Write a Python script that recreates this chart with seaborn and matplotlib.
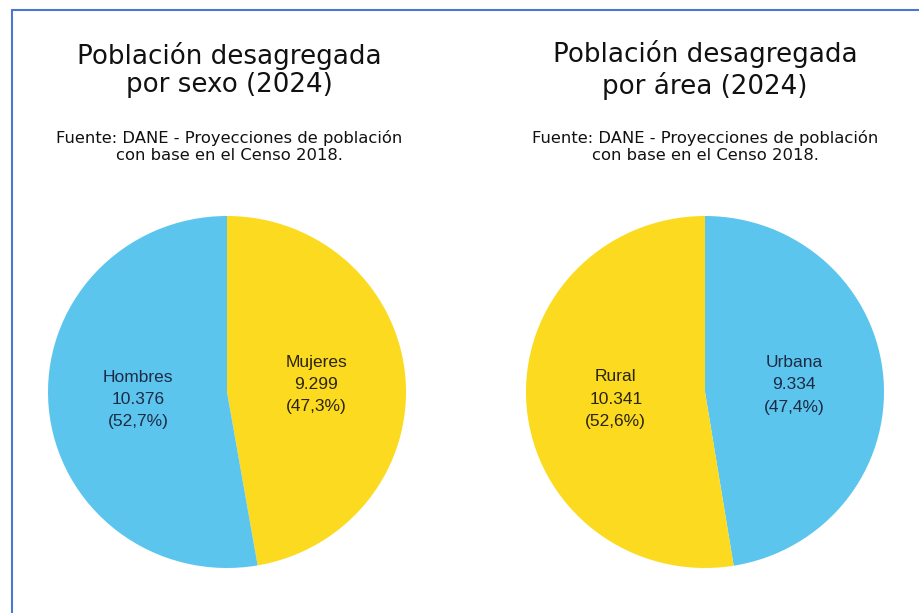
import matplotlib
matplotlib.use("Agg")
import matplotlib.pyplot as plt
import seaborn as sns
from matplotlib.lines import Line2D

sns.set_theme(style="white")
plt.rcParams['font.family'] = ['DejaVu Sans']

# Data
sexo_cats = ["Mujeres", "Hombres"]
sexo_vals = [9299, 10376]
area_cats = ["Urbana", "Rural"]
area_vals = [9334, 10341]
titles = ["Población desagregada\npor sexo (2024)", "Población desagregada\npor área (2024)"]
source = "Fuente: DANE - Proyecciones de población\ncon base en el Censo 2018."

BLUE = "#5CC5EE"
YELLOW = "#FCDA1F"
sexo_colors = [YELLOW, BLUE]
area_colors = [BLUE, YELLOW]

W, H = 920, 613
fig = plt.figure(figsize=(W / 100, H / 100), dpi=100)
fig.patch.set_facecolor("white")


def fmt_int(v):
    return f"{v:,}".replace(",", ".")


def fmt_pct(p):
    return f"({p:.1f}%)".replace(".", ",")


def draw(cx, tx, cats, vals, colors, title):
    rx, ry = 179, 176
    cy = 392
    ax = fig.add_axes([(cx - rx) / W, (H - cy - ry) / H, 2 * rx / W, 2 * ry / H])
    total = sum(vals)
    labels = [f"{c}\n{fmt_int(v)}\n{fmt_pct(100 * v / total)}" for c, v in zip(cats, vals)]
    wedges, texts = ax.pie(vals, colors=colors, startangle=90, counterclock=False,
                           labels=labels, labeldistance=0.5,
                           wedgeprops=dict(linewidth=0),
                           textprops=dict(fontsize=12.5, family="Liberation Sans",
                                          ha="center", va="center", linespacing=1.6))
    for t, col in zip(texts, colors):
        t.set_color("#1d2b45" if col == BLUE else "#2a2410")
        t.set_multialignment("center")
    ax.set_xlim(-1, 1)
    ax.set_ylim(-1, 1)
    ax.set_aspect("auto")
    fig.text(tx / W, 1 - 70 / H, title, ha="center", va="center", fontsize=18.8,
             color="#111111", linespacing=1.15)
    fig.text(tx / W, 1 - 146.5 / H, source, ha="center", va="center", fontsize=11.8,
             color="#111111", linespacing=1.2)


draw(227, 229, sexo_cats, sexo_vals, sexo_colors, titles[0])
draw(705, 705, area_cats, area_vals, area_colors, titles[1])

# Border lines
fig.add_artist(Line2D([12 / W, 12 / W], [0, 1 - 10 / H], color="#4a78d0", lw=1.5))
fig.add_artist(Line2D([12 / W, 1], [1 - 10 / H, 1 - 10 / H], color="#4a78d0", lw=1.5))

fig.savefig("out.png", dpi=100)
